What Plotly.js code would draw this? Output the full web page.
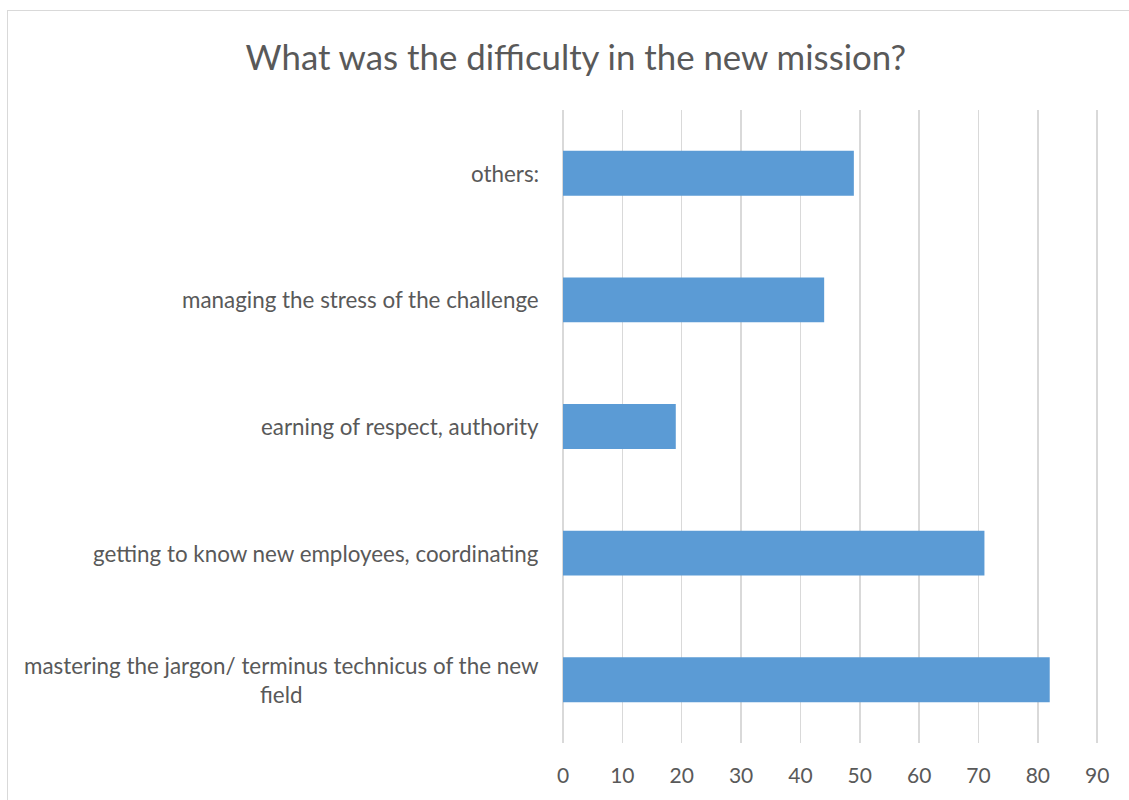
<!DOCTYPE html>
<html><head><meta charset="utf-8">
<script src="https://cdn.plot.ly/plotly-3.0.1.min.js"></script>
<style>
html,body{margin:0;padding:0;background:#fff;}
#frame{position:absolute;left:7px;top:10px;width:1140px;height:820px;border:1.5px solid #d9d9d9;box-sizing:border-box;}
#chart{position:absolute;left:0;top:0;width:1129px;height:800px;}
</style>
</head><body>
<div id="frame"></div>
<div id="chart"></div>
<script>
const categories = [
  "mastering the jargon/ terminus technicus of the new<br>field",
  "getting to know new employees, coordinating",
  "earning of respect, authority",
  "managing the stress of the challenge",
  "others:"
];
const values = [82, 71, 19, 44, 49];
const xTicks = [0,10,20,30,40,50,60,70,80,90];

const trace = {
  type: 'bar', orientation: 'h',
  x: values, y: categories,
  marker: {color: '#5b9bd5'},
  hoverinfo: 'x+y'
};
const annotations = categories.map(c => ({
  x: 0, xref: 'paper', xanchor: 'right', xshift: -22,
  y: c, yref: 'y', yanchor: 'middle',
  text: c, showarrow: false, align: 'center',
  font: {family: 'Lato, "Open Sans", sans-serif', size: 22.4, color: '#595959'}
}));
const layout = {
  width: 1129, height: 800,
  margin: {l: 563, r: 30, t: 110, b: 57},
  paper_bgcolor: 'rgba(0,0,0,0)', plot_bgcolor: 'rgba(0,0,0,0)',
  title: {text: 'What was the difficulty in the new mission?', x: 0.51, xref: 'container', xanchor: 'center',
    y: 0.928, yref: 'container', yanchor: 'middle',
    font: {family: 'Lato, "Open Sans", sans-serif', size: 34.8, color: '#595959'}},
  bargap: 0.645,
  showlegend: false,
  xaxis: {range: [0, 90.3], tickvals: xTicks, ticktext: xTicks.map(String),
    showgrid: true, gridcolor: '#d9d9d9', gridwidth: 1.5,
    zeroline: true, zerolinecolor: '#d9d9d9', zerolinewidth: 1.5,
    showline: false, ticks: '', ticklabelstandoff: 18,
    tickfont: {family: 'Lato, "Open Sans", sans-serif', size: 21, color: '#595959'}, fixedrange: true},
  yaxis: {showticklabels: false, showgrid: false, zeroline: false, showline: false, ticks: '', fixedrange: true},
  annotations: annotations
};
Plotly.newPlot('chart', [trace], layout, {displayModeBar: false, staticPlot: true});
</script>
</body></html>
